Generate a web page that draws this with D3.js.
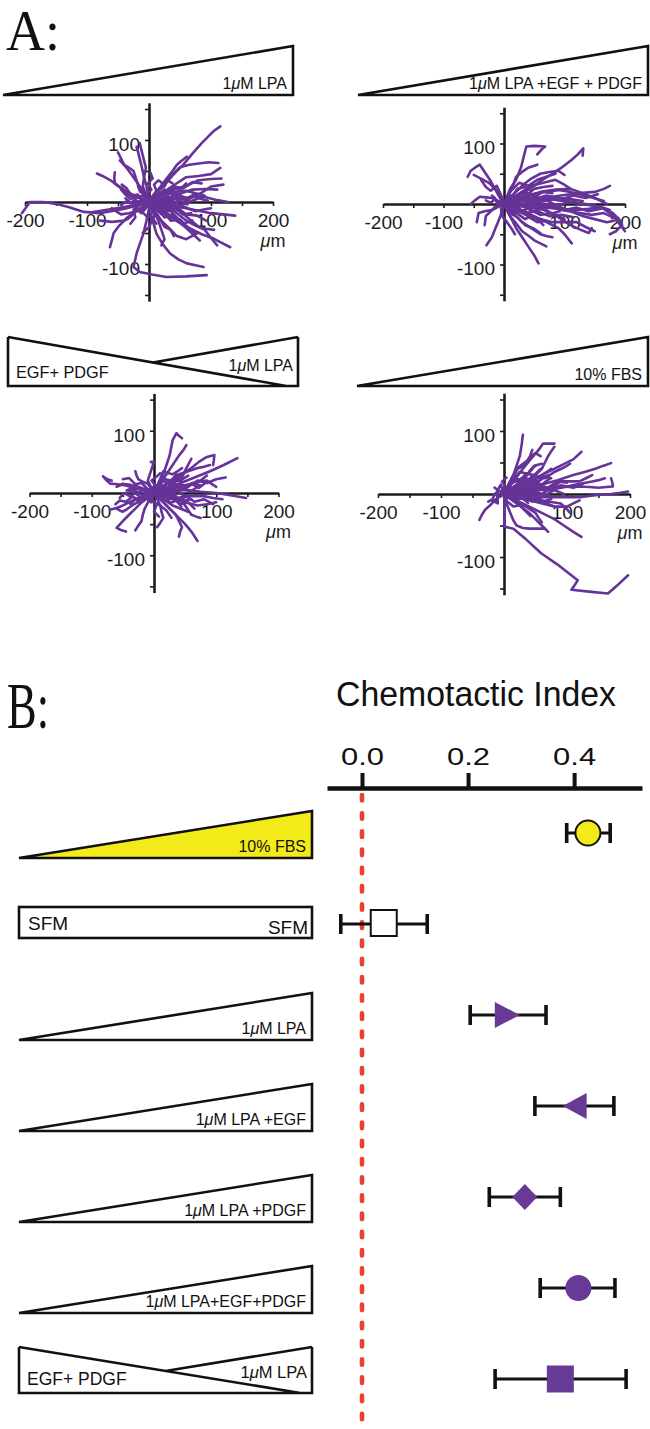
<!DOCTYPE html>
<html><head><meta charset="utf-8">
<script src="https://cdn.jsdelivr.net/npm/d3@7"></script>
<style>body{margin:0;background:#fff}svg{display:block}</style>
</head><body><svg id="fig" width="650" height="1429"></svg>
<script>
// ---------------- DATA ----------------
// Panel A: cell tracks, micrometres [x, y]
const tracksLPA = [
 [[0,0],[-20,-6],[-45,-12],[-80,-18],[-105,-16],[-130,-8],[-150,-3],[-170,0],[-192,0],[-205,-18]],
 [[0,0],[10,12],[25,28],[40,45],[55,60],[70,78],[85,95],[95,105],[105,115],[115,122]],
 [[0,3],[12,15],[25,30],[38,44],[50,56],[65,60],[80,62],[96,64],[112,63]],
 [[0,0],[20,10],[40,20],[60,26],[80,35],[100,37],[117,38]],
 [[0,0],[25,4],[50,5],[70,8],[90,8],[110,3],[127,0]],
 [[2,-5],[30,-22],[61,-40],[85,-52],[104,-59],[131,-73]],
 [[0,-8],[6,-30],[12,-51],[22,-68],[34,-83],[48,-93],[61,-99],[75,-102],[88,-105]],
 [[0,-10],[-4,-30],[-9,-51],[-15,-68],[-20,-83],[-25,-105],[-15,-113],[5,-117],[28,-121],[60,-120],[93,-118]],
 [[0,5],[-4,25],[-8,40],[-12,58],[-15,70],[-18,82],[-20,89]],
 [[0,0],[-18,8],[-35,16],[-50,26],[-62,35],[-75,42],[-84,46]],
 [[0,0],[-15,6],[-30,10],[-42,20],[-55,30],[-56,40],[-55,48]],
 [[0,0],[-10,18],[-25,40],[-36,55],[-47,67]],
 [[0,-2],[-20,-4],[-40,-8],[-65,-12],[-90,-16]],
 [[0,-3],[-18,-12],[-35,-25],[-48,-38],[-57,-50],[-60,-62],[-63,-73]],
 [[0,-5],[-20,-15],[-40,-30],[-60,-32],[-79,-30]],
 [[0,0],[20,-12],[40,-25],[60,-42],[82,-62]],
 [[0,0],[30,-5],[60,-10],[80,-14],[100,-18],[120,-20],[139,-22]],
 [[0,0],[15,8],[30,15],[45,17],[60,18],[75,14],[90,10]],
 [[0,0],[10,-15],[20,-30],[32,-42],[45,-55],[60,-60],[77,-51]],
 [[0,0],[18,4],[35,8],[52,14],[70,20],[90,21],[110,20]],
 [[0,2],[15,20],[30,40],[38,50],[45,60],[52,66],[61,73]],
 [[0,0],[-8,10],[-15,20],[-20,35],[-25,50],[-33,56],[-40,60],[-45,70],[-50,80]],
 [[0,0],[-5,12],[-10,25],[-8,40],[-5,55],[-10,75],[-15,95]],
 [[0,0],[8,-15],[15,-30],[20,-45],[25,-60],[20,-70]],
 [[0,0],[22,-5],[45,-10],[62,-25],[80,-40],[92,-43],[105,-45]],
 [[0,0],[20,14],[40,27],[60,40],[80,42],[100,45],[115,55]],
 [[0,0],[-10,-8],[-20,-15],[-33,-18],[-45,-20],[-53,-15],[-60,-10]],
 [[0,0],[20,10],[35,3],[50,-5],[62,-10],[75,-15],[88,-12],[100,-10]],
 [[0,0],[5,-10],[10,-20],[5,-30],[0,-40],[-5,-45],[-10,-50]],
 [[0,0],[12,10],[25,20],[32,15],[40,10],[50,20],[60,30]],
 [[0,0],[15,-3],[30,-5],[45,-18],[60,-30],[75,-38],[90,-45],[100,-58],[110,-70]],
 [[0,0],[-10,10],[-20,8],[-30,5],[-38,12],[-45,20]],
 [[0,0],[10,5],[20,-5],[30,0],[40,-8],[55,-5],[65,5]],
 [[0,0],[8,8],[15,20],[25,25],[30,35],[38,30]],
 [[0,0],[-6,-6],[-12,-15],[-5,-22],[5,-25],[12,-35]],
 [[0,0],[25,2],[45,12],[65,5],[85,15],[100,25],[120,28]],
 [[0,0],[20,-20],[30,-10],[45,-25],[55,-35],[70,-30]],
 [[0,0],[-12,3],[-25,-3],[-35,2],[-45,-5]],
 [[0,0],[10,-8],[22,-4],[30,-15],[42,-10],[55,-20],[68,-18]],
 [[0,0],[-8,5],[-15,-3],[-22,4],[-30,-2],[-38,6]],
 [[0,0],[12,6],[18,-4],[28,3],[38,-6],[50,2],[62,-4]],
 [[0,0],[5,8],[12,18],[8,28],[15,35],[22,30]],
 [[0,0],[-5,-10],[-12,-18],[-20,-12],[-28,-22],[-35,-28]],
 [[0,0],[15,-12],[25,-25],[38,-20],[48,-32],[60,-40]],
 [[0,0],[20,5],[32,-2],[45,8],[58,4],[72,12],[85,6]],
 [[0,0],[-10,0],[-18,12],[-28,10],[-36,22],[-44,28]],
 [[0,0],[8,-20],[18,-28],[25,-40],[35,-45],[40,-55]],
 [[0,0],[25,12],[40,25],[55,22],[70,32],[85,30]],
 [[0,0],[-4,12],[4,20],[-2,30],[6,38],[2,48]],
 [[0,0],[30,-12],[45,-8],[60,-20],[78,-22],[92,-30]],
 [[0,0],[10,2],[18,10],[28,8],[35,16],[45,14]],
 [[0,0],[-15,-5],[-25,-12],[-22,-25],[-30,-35]],
 [[0,0],[18,-2],[28,6],[40,-2],[52,6],[65,0],[80,6],[95,2]],
 [[0,0],[6,-6],[14,-2],[20,-12],[30,-8],[38,-16]],
 [[0,0],[-6,4],[-4,14],[-14,16],[-18,26]],
 [[0,0],[22,-15],[35,-30],[50,-28],[62,-40],[75,-50]]
];
const tracksLPAEGFPDGF = [
 [[0,0],[5,12],[10,25],[20,40],[28,60],[33,80],[37,95],[50,96],[68,95],[62,90],[55,82]],
 [[0,0],[18,10],[35,20],[50,30],[62,39],[80,50],[95,60],[112,73],[122,82],[131,92],[130,80]],
 [[0,0],[-8,12],[-15,25],[-22,38],[-30,50],[-40,65],[-48,60],[-55,55],[-60,45]],
 [[0,0],[-10,-5],[-20,-10],[-32,-12],[-42,-15],[-45,-30]],
 [[0,0],[-4,-15],[-10,-30],[-15,-42],[-20,-55],[-29,-68]],
 [[0,0],[25,5],[50,10],[75,8],[100,5],[125,0],[150,-3],[168,-8],[180,-15],[190,-25],[195,-35],[185,-45],[175,-50]],
 [[0,0],[30,-2],[60,-5],[90,-8],[120,-10],[140,-8],[160,-5],[175,-15],[185,-25],[200,-45]],
 [[0,0],[25,-10],[50,-20],[70,-30],[90,-40],[100,-50],[112,-65]],
 [[0,0],[10,-20],[20,-40],[30,-55],[40,-70],[50,-85],[57,-98]],
 [[0,0],[20,8],[40,15],[65,20],[90,23],[110,20],[130,15],[148,10],[165,5]],
 [[0,0],[15,15],[30,30],[45,42],[60,50],[75,53],[90,55],[100,48]],
 [[0,0],[30,10],[60,20],[85,24],[110,25],[130,18],[150,10],[170,0]],
 [[0,0],[-5,10],[-10,20],[-18,28],[-25,35],[-38,42],[-50,48]],
 [[0,0],[20,-10],[40,-20],[60,-25],[80,-30],[100,-30],[120,-30],[135,-38],[150,-45]],
 [[0,0],[15,-15],[30,-30],[45,-40],[60,-50],[70,-53],[80,-55]],
 [[0,0],[-8,-3],[-15,-5],[-22,-12],[-30,-20],[-32,-35]],
 [[0,0],[8,15],[15,30],[20,45],[30,53],[40,60],[55,65]],
 [[0,0],[35,-5],[70,-10],[90,-22],[110,-35],[125,-42],[140,-48],[145,-40]],
 [[0,0],[12,3],[25,5],[38,15],[50,25],[65,28],[80,30]],
 [[0,0],[5,-10],[10,-20],[20,-32],[30,-45],[40,-52],[50,-60],[60,-65],[70,-70]],
 [[0,0],[-10,5],[-20,10],[-30,11],[-40,12],[-48,6],[-55,0]],
 [[0,0],[40,0],[80,0],[105,-10],[130,-20],[150,-25],[170,-30],[180,-28],[190,-25]],
 [[0,0],[22,15],[45,30],[65,35],[85,40],[98,33],[110,25]],
 [[0,0],[8,-5],[15,-10],[25,-18],[35,-25],[45,-20]],
 [[0,0],[50,8],[100,15],[125,18],[150,20],[165,25],[175,30]],
 [[0,0],[15,5],[30,-3],[45,2],[60,-5],[75,0],[90,-3]],
 [[0,0],[10,20],[25,35],[40,30],[55,40],[70,45],[85,50]],
 [[0,0],[20,-5],[35,-15],[55,-12],[75,-20],[95,-18],[115,-22]],
 [[0,0],[-5,15],[-12,30],[-22,22],[-30,28],[-38,40]],
 [[0,0],[15,10],[30,12],[50,8],[70,14],[90,10],[110,8],[130,5]],
 [[0,0],[10,-12],[25,-8],[40,-15],[55,-25],[65,-35]],
 [[0,0],[-5,-8],[-3,-20],[5,-30],[12,-40],[18,-50]],
 [[0,0],[20,-3],[40,2],[60,-6],[80,-2],[100,-10],[120,-6],[140,-12],[160,-8]],
 [[0,0],[15,8],[35,12],[55,6],[75,12],[95,8],[115,14],[135,10],[155,16]],
 [[0,0],[10,-5],[25,-12],[40,-8],[60,-18],[80,-15],[100,-25]],
 [[0,0],[12,6],[22,14],[38,18],[50,12],[65,20],[80,18]],
 [[0,0],[-8,3],[-15,8],[-22,2],[-30,6]],
 [[0,0],[8,-8],[18,-15],[30,-12],[42,-22],[55,-30],[68,-28]],
 [[0,0],[25,0],[45,-6],[70,-2],[95,-10],[120,-14],[145,-18],[165,-15],[180,-22]],
 [[0,0],[5,10],[15,15],[22,25],[35,28],[45,22]],
 [[0,0],[18,2],[35,10],[50,5],[68,8],[85,-2],[105,2]],
 [[0,0],[10,-15],[22,-22],[35,-35],[48,-40],[60,-48]],
 [[0,0],[-5,5],[-10,-2],[-15,10],[-20,14]],
 [[0,0],[30,5],[55,2],[80,8],[110,4],[135,0],[160,-5],[175,-10]],
 [[0,0],[15,-8],[30,-2],[48,-12],[62,-8],[78,-16],[92,-12]],
 [[0,0],[8,4],[20,0],[32,8],[44,4],[56,12]]
];
const tracksOpposing = [
 [[0,0],[8,15],[15,30],[20,45],[25,60],[28,75],[30,85],[36,96],[40,92],[45,88]],
 [[0,0],[10,15],[20,30],[30,45],[40,60],[48,70],[52,77]],
 [[0,0],[15,10],[30,20],[45,30],[60,40],[72,50],[85,58],[97,61],[96,52],[95,45]],
 [[0,0],[22,8],[45,17],[68,26],[90,35],[112,45],[134,56]],
 [[0,0],[25,3],[50,5],[75,2],[100,0],[125,-4],[148,-8]],
 [[0,0],[-10,3],[-20,5],[-32,8],[-45,12],[-58,14],[-70,15],[-76,20],[-82,27],[-75,22],[-68,20]],
 [[0,0],[-10,-8],[-20,-15],[-30,-25],[-40,-35],[-50,-45],[-60,-56],[-52,-60],[-45,-62]],
 [[0,0],[-15,-5],[-30,-10],[-40,-15],[-50,-20],[-60,-24],[-71,-27]],
 [[0,0],[12,-12],[25,-25],[38,-38],[50,-50],[60,-62],[70,-77]],
 [[0,0],[15,-10],[30,-20],[42,-25],[55,-30]],
 [[0,0],[-5,10],[-10,20],[-5,35],[0,50],[-5,50]],
 [[0,0],[20,15],[40,30],[55,35],[70,40],[80,42],[90,45]],
 [[0,0],[30,8],[60,15],[72,18],[85,20],[92,15],[100,10]],
 [[0,0],[-12,5],[-25,10],[-38,13],[-50,15],[-55,12],[-60,10]],
 [[0,0],[15,-5],[30,-10],[50,-15],[70,-20],[85,-18],[100,-15]],
 [[0,0],[-8,-12],[-15,-25],[-18,-35],[-20,-45],[-25,-52],[-30,-60]],
 [[0,0],[10,8],[20,15],[32,20],[45,25],[52,40],[60,55]],
 [[0,0],[18,-18],[35,-35],[40,-45],[45,-55],[42,-62],[40,-70]],
 [[0,0],[5,-10],[10,-20],[12,-30],[15,-40],[10,-48],[5,-55]],
 [[0,0],[-18,-10],[-35,-20],[-42,-25],[-50,-30],[-55,-28],[-60,-25]],
 [[0,0],[12,5],[25,10],[38,3],[50,-5],[65,-5],[80,-5],[95,-8],[110,-10]],
 [[0,0],[8,18],[15,35],[22,32],[30,30],[38,35],[45,40]],
 [[0,0],[-5,8],[-10,15],[-18,18],[-25,22],[-28,28],[-30,35]],
 [[0,0],[20,-4],[40,-8],[50,-20],[60,-35],[68,-38],[75,-40]],
 [[0,0],[-3,-8],[-5,-15],[-10,-10],[-15,-5],[-20,-10],[-25,-15]],
 [[0,0],[15,5],[30,12],[45,8],[60,15],[75,20],[85,28]],
 [[0,0],[-10,-3],[-20,-8],[-28,-2],[-35,5],[-42,0]],
 [[0,0],[10,-5],[22,2],[35,-8],[48,-12],[60,-10]],
 [[0,0],[5,12],[15,20],[25,15],[35,22],[45,18]],
 [[0,0],[-5,-5],[0,-15],[10,-20],[20,-28],[28,-40]],
 [[0,0],[-10,4],[-18,-4],[-28,2],[-38,-6],[-48,0],[-55,-8]],
 [[0,0],[12,-4],[22,6],[34,0],[46,8],[58,2],[70,10]],
 [[0,0],[6,10],[14,6],[20,16],[30,12],[38,22]],
 [[0,0],[-6,-8],[-14,-4],[-20,-14],[-30,-10],[-38,-18]],
 [[0,0],[15,8],[25,2],[38,12],[50,6],[62,16],[75,12]],
 [[0,0],[8,-10],[18,-6],[26,-16],[36,-12],[44,-22]],
 [[0,0],[-12,8],[-20,16],[-30,14],[-40,24],[-50,22]],
 [[0,0],[20,-2],[35,-10],[50,-4],[65,-14],[80,-10],[95,-18]],
 [[0,0],[5,5],[12,12],[22,8],[30,18],[42,20],[55,28]],
 [[0,0],[-8,0],[-16,6],[-26,0],[-34,8],[-44,4]],
 [[0,0],[10,14],[18,22],[28,20],[36,30]],
 [[0,0],[25,6],[40,14],[55,10],[70,20],[85,16],[100,22],[115,25]],
 [[0,0],[-4,-12],[4,-20],[0,-30],[8,-38]],
 [[0,0],[18,-12],[30,-8],[42,-18],[55,-15],[65,-25]],
 [[0,0],[-15,-2],[-25,-10],[-35,-6],[-45,-14],[-55,-12],[-62,-18]],
 [[0,0],[12,4],[20,-6],[32,-2],[40,-10],[52,-6]],
 [[0,0],[-6,6],[2,12],[-4,20],[4,26],[10,32]],
 [[0,0],[30,12],[45,5],[60,15],[72,8],[85,18]]
];
const tracksFBS = [
 [[0,0],[1,-15],[1,-30],[1,-45],[1,-52],[15,-55],[35,-72],[59,-94],[85,-112],[117,-137],[112,-145],[107,-152],[135,-155],[165,-158],[180,-145],[197,-129]],
 [[0,-5],[5,-18],[10,-30],[15,-42],[20,-50],[30,-54],[40,-55],[52,-55],[65,-55]],
 [[0,0],[-8,-5],[-15,-10],[-22,-18],[-30,-25],[-35,-33],[-39,-41]],
 [[0,0],[8,15],[15,30],[20,45],[25,60],[28,78],[30,94]],
 [[0,0],[15,20],[30,40],[42,55],[55,70],[62,80],[70,80],[80,80]],
 [[0,0],[25,12],[50,25],[70,35],[90,45],[110,55],[123,67]],
 [[0,0],[30,8],[60,15],[85,22],[110,30],[128,35],[145,40],[158,45],[170,49]],
 [[0,0],[30,-3],[60,-5],[90,-5],[120,-5],[145,-2],[170,0],[185,2],[197,4]],
 [[0,0],[35,5],[70,10],[95,11],[120,12],[135,11],[150,10],[162,11],[173,12],[172,18],[170,25]],
 [[0,0],[20,-10],[40,-20],[60,-30],[80,-40],[95,-50],[110,-60],[123,-68]],
 [[0,0],[20,-15],[40,-30],[50,-40],[60,-50],[70,-60]],
 [[0,0],[15,5],[30,10],[45,20],[60,30],[68,35],[75,40]],
 [[0,0],[10,20],[20,40],[30,48],[40,55],[42,62],[45,70]],
 [[0,0],[20,10],[40,20],[50,30],[60,40],[65,50],[70,60],[75,68],[80,75]],
 [[0,0],[25,-5],[50,-10],[70,-12],[90,-15],[98,-22],[105,-30]],
 [[0,0],[10,3],[20,5],[30,12],[40,20],[48,18],[55,15]],
 [[0,0],[-3,8],[-5,15],[-8,10],[-10,5],[-12,8],[-15,10]],
 [[0,0],[30,0],[60,0],[75,10],[90,20],[105,20],[120,20],[130,25],[140,30]],
 [[0,0],[12,-8],[25,-15],[38,-22],[50,-30],[55,-38],[60,-45]],
 [[0,0],[18,12],[35,25],[45,22],[55,20],[62,25],[70,30]],
 [[0,0],[40,-10],[80,-20],[90,-20],[100,-20],[110,-15],[120,-10]],
 [[0,0],[5,10],[10,20],[20,22],[30,25],[38,32],[45,40]],
 [[0,0],[-5,-3],[-10,-5],[-10,-10],[-10,-15],[-15,-12],[-20,-10]],
 [[0,0],[22,8],[45,15],[55,10],[65,5],[78,8],[90,10]],
 [[0,0],[45,5],[90,10],[115,15],[140,20],[150,22],[160,25]],
 [[0,0],[10,15],[20,25],[28,18],[35,28],[42,38],[50,45]],
 [[0,0],[15,-5],[30,-8],[42,-3],[55,-10],[68,-15],[80,-20]],
 [[0,0],[8,8],[18,5],[28,12],[38,8],[48,15],[60,12]],
 [[0,0],[5,-12],[15,-20],[25,-18],[35,-28],[42,-35]],
 [[0,0],[12,25],[22,40],[32,45],[40,58],[50,65],[58,60]],
 [[0,0],[-8,5],[-15,0],[-18,-8],[-25,-12]],
 [[0,0],[25,15],[50,28],[65,25],[80,35],[95,42],[105,48]],
 [[0,0],[10,5],[20,15],[30,10],[40,22],[52,18],[62,28],[75,25]],
 [[0,0],[15,-2],[28,8],[40,2],[55,12],[68,6],[82,15]],
 [[0,0],[8,12],[16,8],[24,20],[34,16],[44,28]],
 [[0,0],[20,4],[35,-4],[50,4],[65,-2],[80,6],[95,0]],
 [[0,0],[5,-6],[12,-2],[20,-10],[28,-6],[38,-14]],
 [[0,0],[12,18],[25,22],[35,32],[48,30],[58,40]],
 [[0,0],[25,10],[40,4],[55,14],[70,10],[85,20],[100,18]],
 [[0,0],[-4,5],[2,12],[-3,20],[4,26]],
 [[0,0],[18,-8],[30,-4],[45,-12],[58,-8],[70,-16]],
 [[0,0],[10,8],[22,4],[32,12],[44,6],[56,14],[68,10]],
 [[0,0],[15,25],[25,35],[38,32],[48,45],[60,48]],
 [[0,0],[30,2],[50,10],[70,6],[90,14],[110,10],[125,16]],
 [[0,0],[8,2],[14,10],[24,6],[30,14],[40,12]],
 [[0,0],[-6,-4],[-12,0],[-10,-8],[-16,-12]],
 [[0,0],[20,15],[32,10],[45,20],[60,15],[72,24]],
 [[0,0],[10,-4],[25,2],[38,-8],[50,-4],[62,-12],[75,-8]]
];
const panelLabels = [["1μM LPA"], ["1μM LPA +EGF + PDGF"], ["EGF+ PDGF", "1μM LPA"], ["10% FBS"]];
const trackTicks = [-200,-150,-100,-50,50,100,150,200];
const trackYTicks = [-150,-100,-50,50,100,150];
const trackLabelled = [-200,-100,100,200];

// Panel B: chemotactic index
const ciConditions = ["10% FBS", "SFM", "1μM LPA", "1μM LPA +EGF", "1μM LPA +PDGF", "1μM LPA+EGF+PDGF", "EGF+ PDGF | 1μM LPA"];
const ciGradient = ["gradient", "uniform", "gradient", "gradient", "gradient", "gradient", "opposing"];
const ciMean = [0.426, 0.041, 0.274, 0.401, 0.307, 0.408, 0.374];
const ciLow  = [0.386, -0.040, 0.204, 0.326, 0.240, 0.336, 0.251];
const ciHigh = [0.468, 0.123, 0.347, 0.475, 0.374, 0.477, 0.498];
const ciMarker = ["circle", "square", "triangle-right", "triangle-left", "diamond", "circle", "square"];
const ciTicks = [0.0, 0.2, 0.4];

// ---------------- DRAW ----------------
const svg = d3.select("#fig");
const SANS = "'Liberation Sans', Arial, Helvetica, sans-serif";
const SERIF = "'Liberation Serif', 'Times New Roman', serif";
const PURPLE = "#663399";
const YELLOW = "#f3ea1a";
const INK = "#111";

function richText(sel, str) {
  const parts = str.split("μ");
  parts.forEach((p, i) => {
    if (i > 0) sel.append("tspan").attr("font-style", "italic").text("μ");
    if (p) sel.append("tspan").text(p);
  });
  return sel;
}

// headers
svg.append("text").attr("x", 6).attr("y", 50).attr("font-family", SERIF)
  .attr("font-size", 56).attr("textLength", 54).attr("lengthAdjust", "spacingAndGlyphs").attr("fill", INK).text("A:");
svg.append("text").attr("x", 7).attr("y", 728).attr("font-family", SERIF)
  .attr("font-size", 66).attr("textLength", 42).attr("lengthAdjust", "spacingAndGlyphs").attr("fill", INK).text("B:");

// ----- Panel A -----
const panelsA = [
  {tracks: tracksLPA, ox: 149, oy: 202, k: 0.62, wedge: "up", wx0: 3, wx1: 293, wt: 46, wb: 95},
  {tracks: tracksLPAEGFPDGF, ox: 504, oy: 204, k: 0.605, wedge: "up", wx0: 358, wx1: 648, wt: 46, wb: 95},
  {tracks: tracksOpposing, ox: 154, oy: 493, k: 0.6225, wedge: "opp", wx0: 8, wx1: 298, wt: 337, wb: 386},
  {tracks: tracksFBS, ox: 504, oy: 494, k: 0.63, wedge: "up", wx0: 357, wx1: 648, wt: 337, wb: 386}
];

function drawWedge(g, type, x0, x1, yt, yb, labels, fill, fs, oppFs) {
  if (type === "up") {
    g.append("path").attr("d", `M${x0},${yb}L${x1},${yt}L${x1},${yb}Z`)
      .attr("fill", fill).attr("stroke", INK).attr("stroke-width", 2.6).attr("stroke-linejoin", "miter");
    richText(g.append("text").attr("x", x1 - 6).attr("y", yb - 6).attr("text-anchor", "end")
      .attr("font-family", SANS).attr("font-size", fs).attr("fill", INK), labels[0]);
  } else if (type === "opp") {
    const xm = x0 + 0.5 * (x1 - x0), xe = x0 + 0.96 * (x1 - x0);
    const ym = yt + (xm - x0) / (xe - x0) * (yb - yt);
    g.append("path").attr("d", `M${x0},${yt}L${x0},${yb}L${x1},${yb}L${x1},${yt}M${x0},${yt}L${xe},${yb}M${xm},${ym}L${x1},${yt}`)
      .attr("fill", "none").attr("stroke", INK).attr("stroke-width", 2.6);
    richText(g.append("text").attr("x", x0 + 8).attr("y", yb - 8).attr("font-family", SANS)
      .attr("font-size", oppFs).attr("fill", INK), labels[0]);
    richText(g.append("text").attr("x", x1 - 5).attr("y", yb - 15).attr("text-anchor", "end")
      .attr("font-family", SANS).attr("font-size", fs).attr("fill", INK), labels[1]);
  } else {
    g.append("rect").attr("x", x0).attr("y", yt).attr("width", x1 - x0).attr("height", yb - yt)
      .attr("fill", "#fff").attr("stroke", INK).attr("stroke-width", 2.6);
    g.append("text").attr("x", x0 + 9).attr("y", yb - 8).attr("font-family", SANS)
      .attr("font-size", 19).attr("fill", INK).text(labels[0]);
    g.append("text").attr("x", x1 - 4).attr("y", yb - 4).attr("text-anchor", "end").attr("font-family", SANS)
      .attr("font-size", 19).attr("fill", INK).text(labels[1]);
  }
}

panelsA.forEach((p, i) => {
  const g = svg.append("g");
  drawWedge(g, p.wedge, p.wx0, p.wx1, p.wt, p.wb, panelLabels[i], "#fff", 16, 16.3);
  const x = d3.scaleLinear().domain([-200, 200]).range([p.ox - 200 * p.k, p.ox + 200 * p.k]);
  const y = d3.scaleLinear().domain([-160, 160]).range([p.oy + 160 * p.k, p.oy - 160 * p.k]);
  const fmt = d => trackLabelled.includes(d) ? String(d) : "";
  const ax = g.append("g").attr("transform", `translate(0,${p.oy})`)
    .call(d3.axisBottom(x).tickValues(trackTicks).tickSize(4).tickSizeOuter(0).tickPadding(8).tickFormat(fmt));
  const ay = g.append("g").attr("transform", `translate(${p.ox},0)`)
    .call(d3.axisLeft(y).tickValues(trackYTicks).tickSize(4).tickSizeOuter(0).tickPadding(5)
      .tickFormat(d => (d === 100 || d === -100) ? String(d) : ""));
  [ax, ay].forEach(a => {
    a.select(".domain").attr("stroke", "#1c1c1c").attr("stroke-width", 2.6);
    a.selectAll(".tick line").attr("stroke", "#1c1c1c").attr("stroke-width", 1.6);
    a.selectAll(".tick text").attr("font-family", SANS).attr("font-size", 19).attr("fill", "#1c1c1c");
  });
  ay.selectAll(".tick text").attr("dy", "0.55em");
  richText(g.append("text").attr("x", x(200)).attr("y", p.oy + 45).attr("text-anchor", "middle")
    .attr("font-family", SANS).attr("font-size", 18).attr("fill", "#1c1c1c"), "μm");
  const line = d3.line().x(d => x(d[0])).y(d => y(d[1]));
  g.append("g").selectAll("path").data(p.tracks).join("path")
    .attr("d", line).attr("fill", "none").attr("stroke", PURPLE).attr("stroke-width", 2.6)
    .attr("stroke-linejoin", "round").attr("stroke-linecap", "round");
});

// ----- Panel B -----
const ci = d3.scaleLinear().domain([-0.066, 0.528]).range([327, 642]);
const row = d3.scalePoint().domain(ciConditions).range([833, 1379]);

svg.append("text").attr("x", 476).attr("y", 706).attr("text-anchor", "middle")
  .attr("font-family", SANS).attr("font-size", 35).attr("textLength", 280).attr("lengthAdjust", "spacingAndGlyphs")
  .attr("fill", INK).text("Chemotactic Index");

const axB = svg.append("g").attr("transform", "translate(0,788)")
  .call(d3.axisTop(ci).tickValues(ciTicks).tickSize(15).tickSizeOuter(0).tickPadding(8).tickFormat(d3.format(".1f")));
axB.select(".domain").attr("stroke", INK).attr("stroke-width", 4.5);
axB.selectAll(".tick line").attr("stroke", INK).attr("stroke-width", 4);
axB.selectAll(".tick text").attr("font-family", SANS).attr("font-size", 24).attr("fill", INK)
  .attr("textLength", 43).attr("lengthAdjust", "spacingAndGlyphs");

svg.append("line").attr("x1", ci(0)).attr("x2", ci(0)).attr("y1", 795).attr("y2", 1429)
  .attr("stroke", "#e8412f").attr("stroke-width", 4.6).attr("stroke-dasharray", "5.5 12.7").attr("stroke-linecap", "round");

ciConditions.forEach((c, i) => {
  const cy = row(c);
  const g = svg.append("g");
  const type = ciGradient[i];
  if (type === "gradient") {
    drawWedge(g, "up", 19, 312, cy - 22, cy + 25, [c], i === 0 ? YELLOW : "#fff", 16);
  } else if (type === "uniform") {
    drawWedge(g, "uni", 19, 312, cy - 17, cy + 14, ["SFM", "SFM"], "#fff", 16);
  } else {
    drawWedge(g, "opp", 19, 312, cy - 32, cy + 14, c.split(" | "), "#fff", 16.5, 17.5);
  }
});

const markers = svg.append("g");
ciConditions.forEach((c, i) => {
  const cy = row(c), x0 = ci(ciLow[i]), x1 = ci(ciHigh[i]), xm = ci(ciMean[i]);
  const g = markers.append("g");
  g.append("line").attr("x1", x0).attr("x2", x1).attr("y1", cy).attr("y2", cy).attr("stroke", INK).attr("stroke-width", 3.2);
  [x0, x1].forEach(xx => g.append("line").attr("x1", xx).attr("x2", xx).attr("y1", cy - 10).attr("y2", cy + 10)
    .attr("stroke", INK).attr("stroke-width", 3.6));
  const m = ciMarker[i];
  const purple = "#673a96";
  if (m === "circle") {
    const yellow = i === 0;
    g.append("circle").attr("cx", xm).attr("cy", cy).attr("r", yellow ? 12.5 : 13)
      .attr("fill", yellow ? YELLOW : purple).attr("stroke", yellow ? INK : "none").attr("stroke-width", 2);
  } else if (m === "square") {
    const open = i === 1;
    const s = open ? 26 : 27;
    g.append("rect").attr("x", xm - s / 2).attr("y", cy - s / 2 - (open ? 1 : 0)).attr("width", s).attr("height", s)
      .attr("fill", open ? "#fff" : purple).attr("stroke", open ? INK : "none").attr("stroke-width", 2);
  } else if (m === "triangle-right") {
    g.append("path").attr("d", `M${xm - 12.5},${cy - 13}L${xm + 12.5},${cy}L${xm - 12.5},${cy + 13}Z`).attr("fill", purple);
  } else if (m === "triangle-left") {
    g.append("path").attr("d", `M${xm + 12},${cy - 13}L${xm - 12},${cy}L${xm + 12},${cy + 13}Z`).attr("fill", purple);
  } else if (m === "diamond") {
    g.append("path").attr("d", `M${xm},${cy - 13}L${xm + 12.5},${cy}L${xm},${cy + 13}L${xm - 12.5},${cy}Z`).attr("fill", purple);
  }
});
</script>
</body></html>
